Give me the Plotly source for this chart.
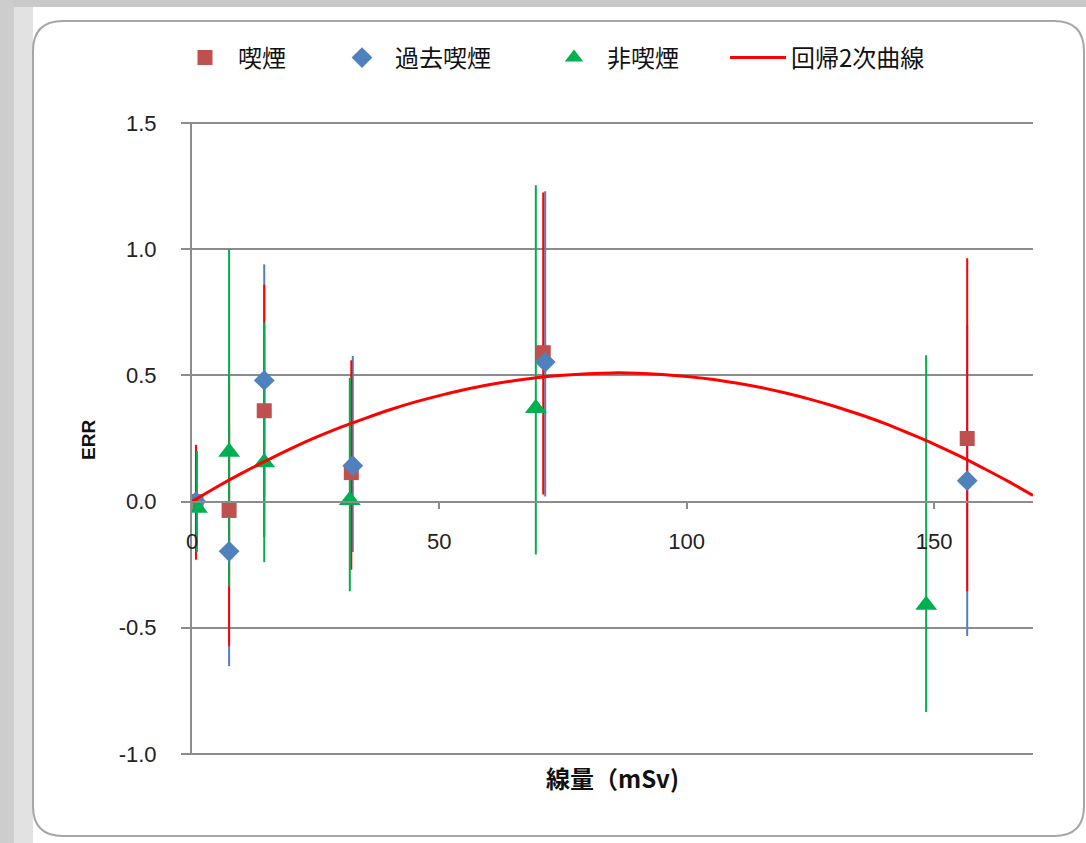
import plotly.graph_objects as go

# ---------------- data ----------------
series_names = ["喫煙", "過去喫煙", "非喫煙"]
curve_name = "回帰2次曲線"

dose_smoker = [0.8, 7.5, 14.6, 32.2, 71.0, 156.7]
err_smoker = [0.0, -0.035, 0.36, 0.115, 0.59, 0.25]
hi_smoker = [0.225, 0.50, 0.86, 0.56, 1.225, 0.964]
lo_smoker = [-0.23, -0.573, -0.14, -0.27, 0.028, -0.355]

dose_former = [0.8, 7.5, 14.6, 32.5, 71.4, 156.7]
err_former = [0.0, -0.197, 0.48, 0.142, 0.553, 0.083]
hi_former = [0.15, 0.30, 0.94, 0.577, 1.23, 0.70]
lo_former = [-0.15, -0.652, 0.02, -0.20, 0.02, -0.533]

dose_never = [1.0, 7.5, 14.6, 31.9, 69.5, 148.4]
err_never = [-0.025, 0.197, 0.155, 0.005, 0.37, -0.41]
hi_never = [0.20, 1.00, 0.71, 0.49, 1.253, 0.58]
lo_never = [-0.20, -0.335, -0.24, -0.355, -0.21, -0.834]

curve_x = [0, 5, 10, 15, 20, 25, 30, 35, 40, 45, 50, 55, 60, 65, 70, 75, 80, 85, 90,
           95, 100, 105, 110, 115, 120, 125, 130, 135, 140, 145, 150, 155, 160, 165, 170]
curve_y = [0.0, 0.058, 0.112, 0.162, 0.21, 0.254, 0.294, 0.33, 0.364, 0.394, 0.42, 0.443,
           0.463, 0.479, 0.492, 0.501, 0.507, 0.51, 0.509, 0.504, 0.496, 0.485, 0.47,
           0.452, 0.43, 0.405, 0.377, 0.345, 0.31, 0.27, 0.228, 0.182, 0.132, 0.08, 0.024]

y_tickvals = [-1.0, -0.5, 0.0, 0.5, 1.0, 1.5]
y_ticktext = ["-1.0", "-0.5", "0.0", "0.5", "1.0", "1.5"]
x_tickvals = [0, 50, 100, 150]
x_ticktext = ["0", "50", "100", "150"]

x_title = "線量（mSv)"
y_title = "ERR"

# ---------------- styles ----------------
marker_colors = ["#C0504D", "#4F81BD", "#00B050"]
bar_colors = ["#FF0000", "#4F81BD", "#00B050"]
symbols = ["square", "diamond", "triangle-up"]
sizes = [15, 16, 19]
legend_widths = [86, 141, 113]

series = [
    (dose_smoker, err_smoker, hi_smoker, lo_smoker),
    (dose_former, err_former, hi_former, lo_former),
    (dose_never, err_never, hi_never, lo_never),
]

fig = go.Figure()

# error bars first (drawn below all markers); blue, then red, then green on top
for i in [1, 0, 2]:
    xs, ys, his, los = series[i]
    fig.add_trace(go.Scatter(
        x=xs, y=ys, mode="markers",
        marker=dict(color="rgba(0,0,0,0)", size=1),
        error_y=dict(type="data", symmetric=False,
                     array=[h - v for h, v in zip(his, ys)],
                     arrayminus=[v - l for v, l in zip(ys, los)],
                     color=bar_colors[i], thickness=2, width=0),
        showlegend=False, hoverinfo="skip",
    ))

# markers
for i, (xs, ys, his, los) in enumerate(series):
    fig.add_trace(go.Scatter(
        x=xs, y=ys, mode="markers", name=series_names[i],
        marker=dict(symbol=symbols[i], size=sizes[i], color=marker_colors[i],
                    line=dict(width=0)),
        legendwidth=legend_widths[i],
    ))

# regression curve
fig.add_trace(go.Scatter(
    x=curve_x, y=curve_y, mode="lines", name=curve_name,
    line=dict(color="#FF0000", width=3, shape="spline"),
    legendwidth=170,
))

W, H = 1086, 843
L, R, T, B = 192, 53, 122, 88
pw, ph = W - L - R, H - T - B


def px(x):
    return (x - L) / pw


def py(y):
    return (H - B - y) / ph


# rounded outer frame
x0, x1, y0, y1 = px(33), px(1084), py(21), py(836)
rx, ry = 30 / pw, 30 / ph
frame_path = (
    f"M{x0 + rx},{y0} L{x1 - rx},{y0} Q{x1},{y0} {x1},{y0 - ry} "
    f"L{x1},{y1 + ry} Q{x1},{y1} {x1 - rx},{y1} "
    f"L{x0 + rx},{y1} Q{x0},{y1} {x0},{y1 + ry} "
    f"L{x0},{y0 - ry} Q{x0},{y0} {x0 + rx},{y0} Z"
)

shapes = [
    dict(type="rect", xref="paper", yref="paper", x0=px(0), x1=px(W), y0=py(0), y1=py(7),
         fillcolor="#c9c9c9", line=dict(width=0), layer="below"),
    dict(type="rect", xref="paper", yref="paper", x0=px(0), x1=px(14), y0=py(0), y1=py(H),
         fillcolor="#cdcdcd", line=dict(width=0), layer="below"),
    dict(type="rect", xref="paper", yref="paper", x0=px(14), x1=px(33), y0=py(7), y1=py(H),
         fillcolor="#e2e2e2", line=dict(width=0), layer="below"),
    dict(type="path", xref="paper", yref="paper", path=frame_path,
         fillcolor="white", line=dict(color="#a6a6a6", width=2), layer="below"),
]

tick_font = dict(family="Liberation Sans, Arial, sans-serif", size=22, color="#222222")

fig.update_layout(
    width=W, height=H,
    margin=dict(l=L, r=R, t=T, b=B),
    paper_bgcolor="white",
    plot_bgcolor="rgba(0,0,0,0)",
    shapes=shapes,
    showlegend=True,
    legend=dict(orientation="h", x=px(172), xanchor="left", y=py(58), yanchor="middle",
                itemwidth=56, font=dict(family="Noto Sans CJK JP", size=24, color="#111111"),
                bgcolor="rgba(0,0,0,0)", traceorder="normal"),
    xaxis=dict(range=[0, 170], tickvals=x_tickvals, ticktext=x_ticktext,
               anchor="free", position=0.4, showgrid=False, zeroline=False,
               showline=True, linecolor="#8c8c8c", linewidth=2,
               ticks="outside", ticklen=6, tickwidth=1.5, tickcolor="#8c8c8c",
               ticklabelstandoff=14, tickfont=tick_font),
    yaxis=dict(range=[-1.004, 1.504], tickvals=y_tickvals, ticktext=y_ticktext,
               showgrid=True, gridcolor="#8c8c8c", gridwidth=1.5, zeroline=False,
               showline=True, linecolor="#8c8c8c", linewidth=2,
               ticks="outside", ticklen=9, tickwidth=1.5, tickcolor="#8c8c8c",
               ticklabelstandoff=20, tickfont=tick_font),
    annotations=[
        dict(text=f"<b>{x_title}</b>", xref="paper", yref="paper", x=0.5, y=py(778),
             xanchor="center", yanchor="middle", showarrow=False,
             font=dict(family="Noto Sans CJK JP", size=24, color="#111111")),
        dict(text=f"<b>{y_title}</b>", xref="paper", yref="paper", x=px(88), y=py(440),
             xanchor="center", yanchor="middle", showarrow=False, textangle=-90,
             font=dict(family="Liberation Sans, Arial, sans-serif", size=19, color="#111111")),
    ],
)

fig.write_html("out.html", config={"displayModeBar": False},
               post_script="document.body.style.margin='0px';document.body.style.overflow='hidden';")
